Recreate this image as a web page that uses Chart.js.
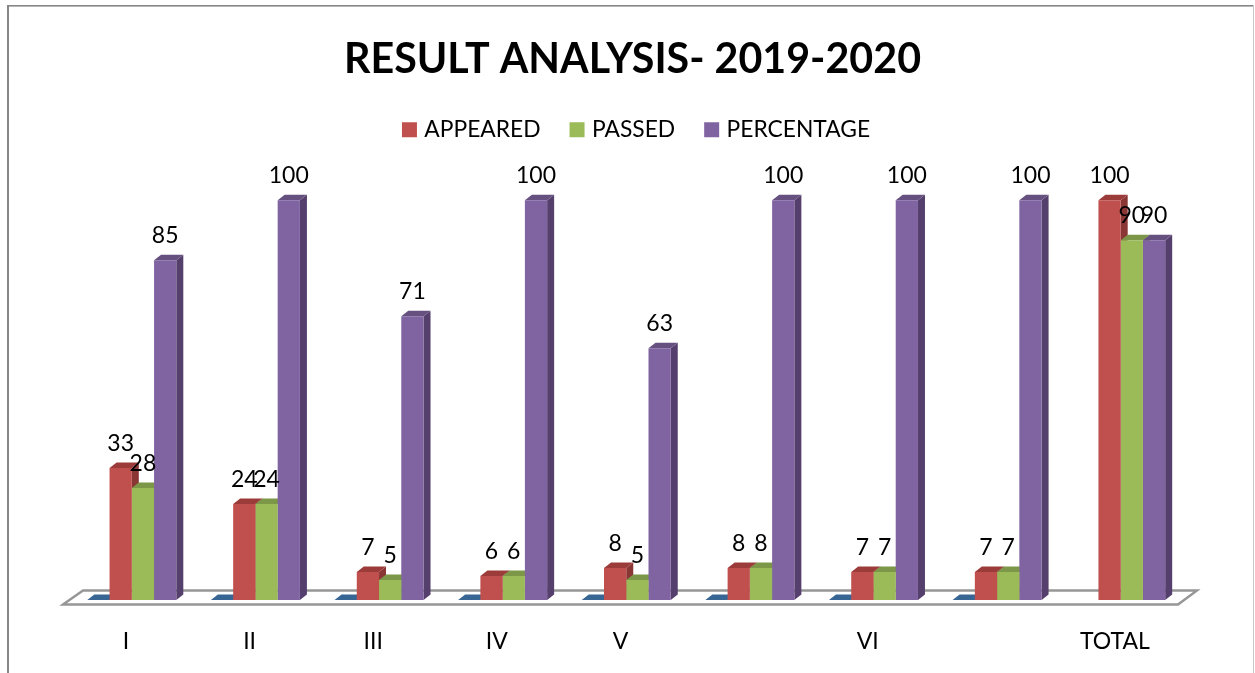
<!DOCTYPE html>
<html>
<head>
<meta charset="utf-8">
<style>html,body{margin:0;padding:0;background:#fff;overflow:hidden}#wrap{width:1255px;height:673px}</style>
<script src="https://cdn.jsdelivr.net/npm/chart.js@4/dist/chart.umd.min.js"></script>
</head>
<body>
<div id="wrap"><canvas id="c" width="1255" height="673"></canvas></div>
<script>
const categories = ['I','II','III','IV','V','','VI','','TOTAL'];
const blank      = [0,0,0,0,0,0,0,0,null];
const appeared   = [33,24,7,6,8,8,7,7,100];
const passed     = [28,24,5,6,5,8,7,7,90];
const percentage = [85,100,71,100,63,100,100,100,90];

const FONT = 'Lato, Carlito, Calibri, sans-serif';
const DEPTH_X = 7, DEPTH_Y = 5.5;
const faceColors = [
  {top:'#376694', side:'#2f5880'},
  {top:'#9B3C3A', side:'#8A3634'},
  {top:'#7D9748', side:'#6F863F'},
  {top:'#66507F', side:'#553F6D'}
];

function poly(ctx, pts, fill){
  ctx.beginPath();
  pts.forEach((p,i)=> i ? ctx.lineTo(p[0],p[1]) : ctx.moveTo(p[0],p[1]));
  ctx.closePath();
  ctx.fillStyle = fill;
  ctx.fill();
}

const frame = {
  id:'frame',
  beforeDraw(chart){
    const ctx = chart.ctx;
    ctx.save();
    ctx.fillStyle = '#fff';
    ctx.fillRect(0,0,chart.width,chart.height);
    ctx.fillStyle = '#868686';
    ctx.fillRect(7,5,1247,1.6);
    ctx.fillRect(7,5,2,668);
    ctx.fillStyle = '#c8c8c8';
    ctx.fillRect(1253,5,1,668);
    ctx.restore();
  }
};

const shiftBoxes = {
  id:'shiftBoxes',
  afterLayout(chart){
    const t = chart.titleBlock;
    if (t){ t.left += 6.25; t.right += 6.25; }
    const l = chart.legend;
    l.left += 11.75; l.right += 11.75;
    l.adjustHitBoxes();
  }
};

const bars3d = {
  id:'bars3d',
  beforeDatasetsDraw(chart){
    const ctx = chart.ctx, a = chart.chartArea, y0 = chart.scales.y.getPixelForValue(0);
    ctx.save();
    ctx.beginPath();
    ctx.moveTo(a.left-7, y0+4.5);
    ctx.lineTo(a.left+13, y0-9.5);
    ctx.lineTo(a.right+14.5, y0-9.5);
    ctx.lineTo(a.right-4.5, y0+4.5);
    ctx.closePath();
    ctx.fillStyle = '#fff';
    ctx.fill();
    ctx.strokeStyle = '#969696';
    ctx.lineWidth = 2.4;
    ctx.stroke();
    chart.data.datasets.forEach((ds,i)=>{
      chart.getDatasetMeta(i).data.forEach((b,j)=>{
        if (ds.data[j] === null) return;
        const p = b.getProps(['x','y','base','width'], true);
        const l = p.x-p.width/2, r = p.x+p.width/2;
        if (p.base > p.y) poly(ctx, [[r,p.y],[r+DEPTH_X,p.y-DEPTH_Y],[r+DEPTH_X,p.base-DEPTH_Y],[r,p.base]], faceColors[i].side);
        poly(ctx, [[l,p.y],[l+DEPTH_X,p.y-DEPTH_Y],[r+DEPTH_X,p.y-DEPTH_Y],[r,p.y]], faceColors[i].top);
      });
    });
    ctx.restore();
  },
  afterDatasetsDraw(chart){
    const ctx = chart.ctx;
    ctx.save();
    ctx.font = '23px '+FONT;
    ctx.fillStyle = '#000';
    ctx.textAlign = 'center';
    ctx.textBaseline = 'middle';
    chart.data.datasets.forEach((ds,i)=>{
      if (i===0) return;
      chart.getDatasetMeta(i).data.forEach((b,j)=>{
        ctx.fillText(String(ds.data[j]), b.x, b.y-24.5);
      });
    });
    ctx.restore();
  }
};

new Chart(document.getElementById('c'), {
  type:'bar',
  plugins:[frame, shiftBoxes, bars3d],
  data:{
    labels:categories,
    datasets:[
      {label:'', data:blank, backgroundColor:'#376694'},
      {label:'APPEARED', data:appeared, backgroundColor:'#C0504D'},
      {label:'PASSED', data:passed, backgroundColor:'#9BBB59'},
      {label:'PERCENTAGE', data:percentage, backgroundColor:'#8064A2'}
    ]
  },
  options:{
    responsive:false,
    animation:false,
    devicePixelRatio:1,
    layout:{padding:{left:70,right:72.5,top:0,bottom:0}},
    datasets:{bar:{categoryPercentage:0.72,barPercentage:1}},
    plugins:{
      tooltip:{enabled:false},
      title:{
        display:true,
        text:'RESULT ANALYSIS- 2019-2020',
        color:'#000',
        font:{family:FONT,size:41.2,weight:'bold'},
        padding:{top:34.5,bottom:1.4}
      },
      legend:{
        display:true,
        position:'top',
        labels:{
          color:'#000',
          font:{family:FONT,size:22.8},
          boxWidth:7,
          boxHeight:7,
          padding:33,
          generateLabels(chart){
            return chart.data.datasets.map((d,i)=>({
              text:d.label, fillStyle:d.backgroundColor, strokeStyle:d.backgroundColor,
              lineWidth:8, datasetIndex:i, hidden:false
            })).filter(x=>x.text);
          }
        }
      }
    },
    scales:{
      x:{
        grid:{display:false,drawTicks:false},
        border:{display:false},
        afterFit(scale){ scale.height = 73; },
        ticks:{color:'#000',font:{family:FONT,size:23},padding:28,labelOffset:-5.8,autoSkip:false,maxRotation:0}
      },
      y:{display:false,min:0,max:112.3}
    }
  }
});
</script>
</body>
</html>
